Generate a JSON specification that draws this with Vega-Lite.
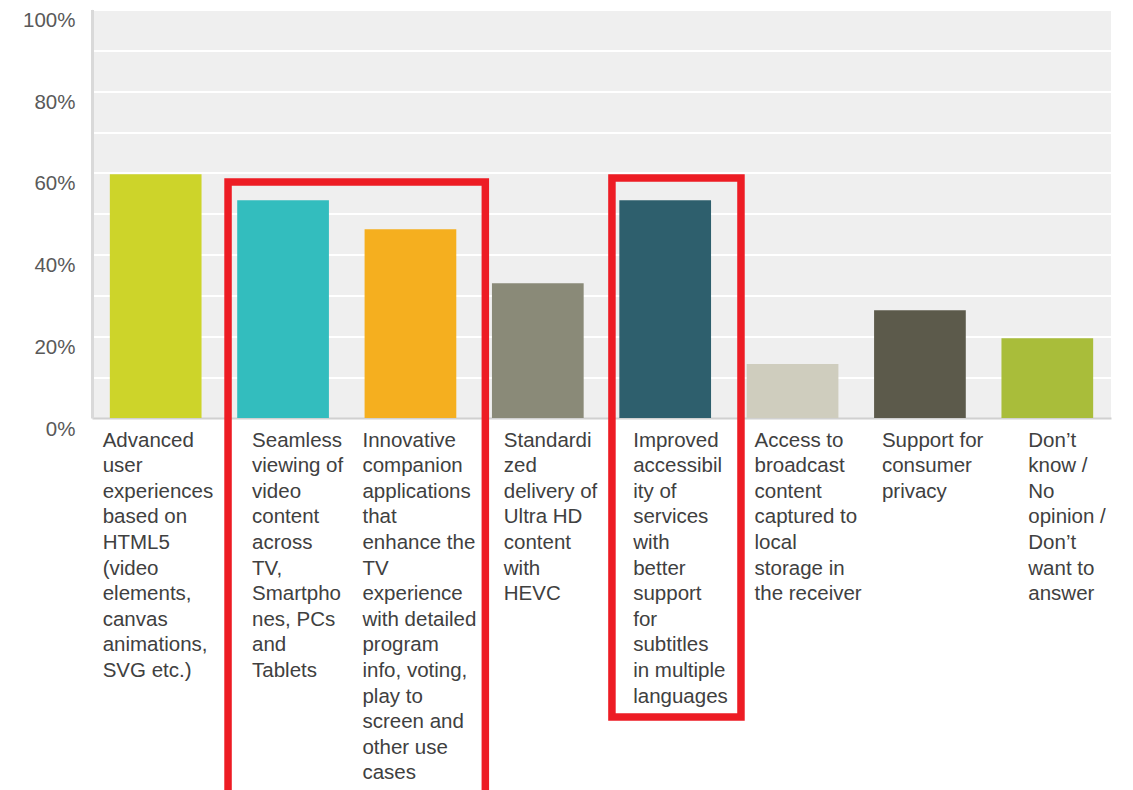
{
  "$schema": "https://vega.github.io/schema/vega-lite/v6.json",
  "width": 1019,
  "height": 408.5,
  "autosize": "none",
  "padding": {"left": 92, "top": 9.5, "right": 22, "bottom": 372},
  "background": "white",
  "config": {"font": "Liberation Sans", "view": {"fill": "#EFEFEF", "stroke": null}},
  "layer": [
    {
      "data": {"values": [
        {"option": "Advanced\nuser\nexperiences\nbased on\nHTML5\n(video\nelements,\ncanvas\nanimations,\nSVG etc.)", "share": 0.597},
        {"option": "Seamless\nviewing of\nvideo\ncontent\nacross\nTV,\nSmartpho\nnes, PCs\nand\nTablets", "share": 0.533},
        {"option": "Innovative\ncompanion\napplications\nthat\nenhance the\nTV\nexperience\nwith detailed\nprogram\ninfo, voting,\nplay to\nscreen and\nother use\ncases", "share": 0.462},
        {"option": "Standardi\nzed\ndelivery of\nUltra HD\ncontent\nwith\nHEVC", "share": 0.330},
        {"option": "Improved\naccessibil\nity of\nservices\nwith\nbetter\nsupport\nfor\nsubtitles\nin multiple\nlanguages", "share": 0.533},
        {"option": "Access to\nbroadcast\ncontent\ncaptured to\nlocal\nstorage in\nthe receiver", "share": 0.132},
        {"option": "Support for\nconsumer\nprivacy", "share": 0.264},
        {"option": "Don’t\nknow /\nNo\nopinion /\nDon’t\nwant to\nanswer", "share": 0.195}
      ]},
      "mark": {"type": "bar"},
      "encoding": {
        "x": {
          "field": "option", "type": "nominal", "sort": null,
          "scale": {"paddingInner": 0.28, "paddingOuter": 0.14},
          "axis": {
            "title": null, "labelAngle": 0, "labelAlign": "left", "labelBaseline": "top",
            "labelExpr": "split(datum.label, '\\n')",
            "labelFontSize": 20.5, "labelLineHeight": 25.6, "labelColor": "#404040",
            "labelPadding": 12, "ticks": false, "domainColor": "#D0D0D0", "domainWidth": 2,
            "labelLimit": 0, "labelOverlap": false, "labelBound": false,
            "labelOffset": {
              "condition": [
                {"test": "indexof(datum.value, 'Advanced') === 0", "value": -53},
                {"test": "indexof(datum.value, 'Seamless') === 0", "value": -31},
                {"test": "indexof(datum.value, 'Innovative') === 0", "value": -48},
                {"test": "indexof(datum.value, 'Standardi') === 0", "value": -34},
                {"test": "indexof(datum.value, 'Improved') === 0", "value": -32},
                {"test": "indexof(datum.value, 'Access') === 0", "value": -38},
                {"test": "indexof(datum.value, 'Support') === 0", "value": -38},
                {"test": "indexof(datum.value, 'Don') === 0", "value": -19}
              ],
              "value": -36
            }
          }
        },
        "y": {
          "field": "share", "type": "quantitative", "title": null,
          "scale": {"domain": [0, 1]},
          "axis": {
            "title": null,
            "values": [0, 0.1, 0.2, 0.3, 0.4, 0.5, 0.6, 0.7, 0.8, 0.9, 1],
            "labelExpr": "round(datum.value * 10) % 2 == 0 ? format(datum.value, '.0%') : ''",
            "grid": true, "gridColor": "#FFFFFF", "gridWidth": 2,
            "ticks": false, "domainColor": "#D9D9D9", "domainWidth": 3,
            "labelFontSize": 20.5, "labelColor": "#595959", "labelPadding": 17, "labelOffset": 11
          }
        },
        "color": {
          "field": "option", "type": "nominal", "legend": null,
          "scale": {
            "domain": [
              "Advanced\nuser\nexperiences\nbased on\nHTML5\n(video\nelements,\ncanvas\nanimations,\nSVG etc.)",
              "Seamless\nviewing of\nvideo\ncontent\nacross\nTV,\nSmartpho\nnes, PCs\nand\nTablets",
              "Innovative\ncompanion\napplications\nthat\nenhance the\nTV\nexperience\nwith detailed\nprogram\ninfo, voting,\nplay to\nscreen and\nother use\ncases",
              "Standardi\nzed\ndelivery of\nUltra HD\ncontent\nwith\nHEVC",
              "Improved\naccessibil\nity of\nservices\nwith\nbetter\nsupport\nfor\nsubtitles\nin multiple\nlanguages",
              "Access to\nbroadcast\ncontent\ncaptured to\nlocal\nstorage in\nthe receiver",
              "Support for\nconsumer\nprivacy",
              "Don’t\nknow /\nNo\nopinion /\nDon’t\nwant to\nanswer"
            ],
            "range": ["#CDD42A", "#33BDBE", "#F5AF1F", "#8A8A78", "#2E5F6D", "#CFCDBE", "#5C5A4B", "#A9BD3A"]
          }
        }
      }
    },
    {
      "data": {"values": [
        {"x_start": 1.068, "x_end": 3.088, "y_top": 0.578, "y_bottom": -0.92},
        {"x_start": 4.082, "x_end": 5.095, "y_top": 0.5875, "y_bottom": -0.732}
      ]},
      "mark": {"type": "rect", "fillOpacity": 0, "stroke": "#ED1C24", "strokeWidth": 7.5, "clip": false},
      "encoding": {
        "x": {"field": "x_start", "type": "quantitative", "scale": {"domain": [0, 8]}, "axis": null},
        "x2": {"field": "x_end"},
        "y": {"field": "y_top", "type": "quantitative", "title": null, "scale": {"domain": [0, 1]}},
        "y2": {"field": "y_bottom"}
      }
    }
  ],
  "resolve": {"scale": {"x": "independent"}}
}
